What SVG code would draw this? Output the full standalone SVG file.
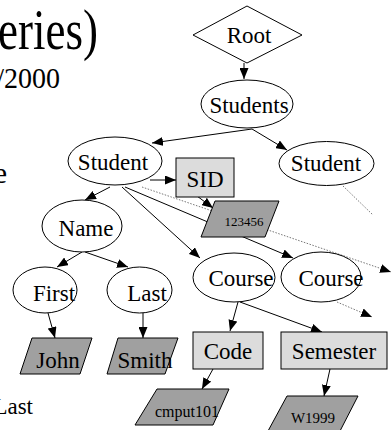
<svg xmlns="http://www.w3.org/2000/svg" width="392" height="430" viewBox="0 0 392 430">
<style>
text{font-family:"Liberation Serif","Times New Roman",serif;fill:#000}
.lbl{font-size:23px}
.ell{fill:#fff;stroke:#000;stroke-width:1}
.box{fill:#dcdcdc;stroke:#000;stroke-width:1}
.val{fill:#a0a0a0;stroke:#000;stroke-width:1}
.e{stroke:#000;stroke-width:1;fill:none}
.d{stroke:#777;stroke-width:1;stroke-dasharray:1.5,1.5;fill:none}
</style>
<defs>
<marker id="ah" markerWidth="11" markerHeight="9" refX="11" refY="4.5" orient="auto" markerUnits="userSpaceOnUse"><path d="M0,0 L11,4.5 L0,9 z" fill="#000"/></marker>
</defs>
<g id="slide-text">
<text transform="translate(98,49) scale(1,1.25)" font-size="45" text-anchor="end">eries)</text>
<text transform="translate(60,88) scale(1,1.05)" font-size="28" text-anchor="end">/2000</text>
<text x="7" y="183" font-size="30" text-anchor="end">e</text>
<text x="33" y="414" font-size="23" text-anchor="end">Last</text>
</g>
<g id="connectors">
<line class="e" x1="244" y1="63" x2="244" y2="79" marker-end="url(#ah)"/>
<line class="e" x1="252" y1="129" x2="152" y2="143" marker-end="url(#ah)"/>
<line class="e" x1="252" y1="129" x2="287" y2="150" marker-end="url(#ah)"/>
<line class="e" x1="150" y1="180" x2="176" y2="180" marker-end="url(#ah)"/>
<line class="d" x1="142" y1="187" x2="391" y2="272" marker-end="url(#ah)"/>
<line class="e" x1="193" y1="193" x2="213" y2="208" marker-end="url(#ah)"/>
<line class="e" x1="125" y1="187" x2="293" y2="258" marker-end="url(#ah)"/>
<line class="e" x1="122" y1="187" x2="200" y2="258" marker-end="url(#ah)"/>
<line class="e" x1="110" y1="187" x2="85" y2="200" marker-end="url(#ah)"/>
<line class="e" x1="82" y1="252" x2="57" y2="267" marker-end="url(#ah)"/>
<line class="e" x1="85" y1="252" x2="128" y2="267" marker-end="url(#ah)"/>
<line class="e" x1="48" y1="313" x2="55" y2="338" marker-end="url(#ah)"/>
<line class="e" x1="143" y1="313" x2="143" y2="338" marker-end="url(#ah)"/>
<line class="e" x1="238" y1="302" x2="230" y2="331" marker-end="url(#ah)"/>
<line class="e" x1="240" y1="302" x2="322" y2="332" marker-end="url(#ah)"/>
<line class="d" x1="337" y1="302" x2="372" y2="317" marker-end="url(#ah)"/>
<line class="d" x1="343" y1="186" x2="373" y2="215"/>
<line class="e" x1="213" y1="369" x2="202" y2="389" marker-end="url(#ah)"/>
<line class="e" x1="330" y1="369" x2="324" y2="396" marker-end="url(#ah)"/>
</g>
<g id="root"><polygon class="ell" points="193,35 247,6 302,35 247,63"/><text class="lbl" x="249" y="43" text-anchor="middle" font-size="25">Root</text></g>
<g id="students"><ellipse class="ell" cx="247" cy="104" rx="46" ry="24"/><text class="lbl" x="249" y="113" text-anchor="middle">Students</text></g>
<g id="student1"><ellipse class="ell" cx="115" cy="161" rx="47" ry="24"/><text class="lbl" x="113" y="170" text-anchor="middle">Student</text></g>
<g id="student2"><ellipse class="ell" cx="326.5" cy="163.5" rx="47.5" ry="22"/><text class="lbl" x="326" y="171" text-anchor="middle">Student</text></g>
<g id="sid"><rect class="box" x="176" y="158" width="58" height="39"/><text class="lbl" x="205" y="187" text-anchor="middle">SID</text></g>
<g id="v123456"><polygon class="val" points="215,201 279,201 265,237 201,237"/><text x="244" y="226" font-size="13" text-anchor="middle">123456</text></g>
<g id="name"><ellipse class="ell" cx="82" cy="226" rx="40" ry="26"/><text class="lbl" x="86" y="236" text-anchor="middle">Name</text></g>
<g id="first"><ellipse class="ell" cx="45" cy="290" rx="32" ry="23"/><text class="lbl" x="54" y="301" text-anchor="middle">First</text></g>
<g id="last"><ellipse class="ell" cx="139.5" cy="290" rx="32.5" ry="23"/><text class="lbl" x="147" y="301" text-anchor="middle">Last</text></g>
<g id="john"><polygon class="val" points="32,338 92,338 80,374 20,374"/><text class="lbl" x="58" y="368" text-anchor="middle">John</text></g>
<g id="smith"><polygon class="val" points="118,338 178,338 165,374 107,374"/><text class="lbl" x="145" y="368" text-anchor="middle">Smith</text></g>
<g id="course1"><ellipse class="ell" cx="234" cy="277.5" rx="41" ry="24.5"/><text class="lbl" x="241" y="286" text-anchor="middle">Course</text></g>
<g id="course2"><ellipse class="ell" cx="321" cy="277" rx="40" ry="25"/><text class="lbl" x="331" y="286" text-anchor="middle">Course</text></g>
<g id="code"><rect class="box" x="193" y="332" width="70" height="37"/><text class="lbl" x="228" y="359" text-anchor="middle">Code</text></g>
<g id="semester"><rect class="box" x="281" y="332" width="106" height="37"/><text class="lbl" x="334" y="359" text-anchor="middle">Semester</text></g>
<g id="cmput101"><polygon class="val" points="157,389 229,389 213,425 135,425"/><text x="187" y="417" font-size="16" text-anchor="middle">cmput101</text></g>
<g id="w1999"><polygon class="val" points="287,396 358,396 340,431 268,431"/><text x="313" y="423" font-size="15" text-anchor="middle">W1999</text></g>
</svg>
